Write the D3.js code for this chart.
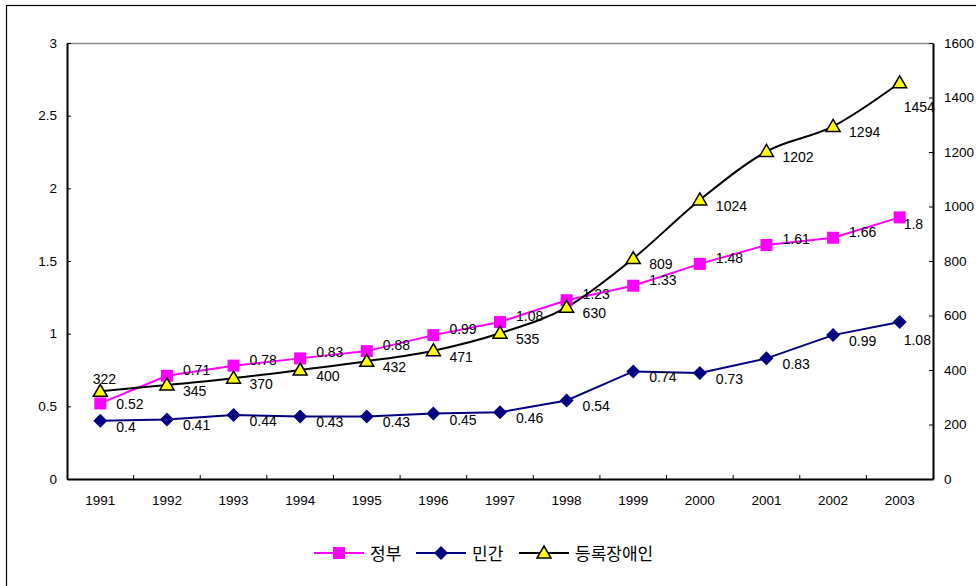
<!DOCTYPE html>
<html>
<head>
<meta charset="utf-8">
<script src="https://cdn.jsdelivr.net/npm/d3@7"></script>
<style>
  body { margin: 0; background: #fff; }
  svg { display: block; font-family: "Liberation Sans", Arial, sans-serif; }
</style>
</head>
<body>
<div id="chart"></div>
<script>
// data
const years = ['1991','1992','1993','1994','1995','1996','1997','1998','1999','2000','2001','2002','2003'];
const govValues = [0.52, 0.71, 0.78, 0.83, 0.88, 0.99, 1.08, 1.23, 1.33, 1.48, 1.61, 1.66, 1.8];
const privValues = [0.4, 0.41, 0.44, 0.43, 0.43, 0.45, 0.46, 0.54, 0.74, 0.73, 0.83, 0.99, 1.08];
const registeredValues = [322, 345, 370, 400, 432, 471, 535, 630, 809, 1024, 1202, 1294, 1454];
const leftTicks = [0, 0.5, 1, 1.5, 2, 2.5, 3];
const rightTicks = [0, 200, 400, 600, 800, 1000, 1200, 1400, 1600];
const seriesNames = ['정부', '민간', '등록장애인'];

const width = 976, height = 586;
const plot = { left: 67, right: 933, top: 43, bottom: 479 };

const svg = d3.select('#chart').append('svg')
  .attr('width', width)
  .attr('height', height);

// outer chart frame
svg.append('rect')
  .attr('x', 6.5).attr('y', 5.5)
  .attr('width', width).attr('height', height)
  .attr('fill', 'none').attr('stroke', '#000').attr('stroke-width', 1.2);

const x = d3.scaleBand().domain(years).range([plot.left, plot.right]);
const yLeft = d3.scaleLinear().domain([0, 3]).range([plot.bottom, plot.top]);
const yRight = d3.scaleLinear().domain([0, 1600]).range([plot.bottom, plot.top]);
const cx = d => x(d) + x.bandwidth() / 2;

// top border of plot area
svg.append('line')
  .attr('x1', plot.left).attr('x2', plot.right)
  .attr('y1', plot.top + 0.5).attr('y2', plot.top + 0.5)
  .attr('stroke', '#888').attr('stroke-width', 1.5);

// left axis
const leftAxis = svg.append('g')
  .attr('transform', `translate(${plot.left},0)`)
  .call(d3.axisLeft(yLeft).tickValues(leftTicks).tickSizeInner(-4).tickSizeOuter(0).tickPadding(10).tickFormat(d => d));

// right axis
const rightAxis = svg.append('g')
  .attr('transform', `translate(${plot.right},0)`)
  .call(d3.axisRight(yRight).tickValues(rightTicks).tickSizeInner(-4).tickSizeOuter(0).tickPadding(11).tickFormat(d => d));

// bottom axis, ticks between categories
const bottomAxis = svg.append('g')
  .attr('transform', `translate(0,${plot.bottom})`)
  .call(d3.axisBottom(x).tickSize(0).tickPadding(16));

bottomAxis.selectAll('.tickmark')
  .data(years.slice(1))
  .join('line')
  .attr('class', 'tickmark')
  .attr('x1', d => x(d)).attr('x2', d => x(d))
  .attr('y1', 0).attr('y2', -4)
  .attr('stroke', '#000');

[leftAxis, rightAxis, bottomAxis].forEach(a => {
  a.attr('font-size', null);
  a.select('.domain').attr('stroke', '#000').attr('stroke-width', 2);
  a.selectAll('.tick line').attr('stroke', '#000');
  a.selectAll('text').attr('font-size', '13.5px').attr('fill', '#000')
    .attr('font-family', '"Liberation Sans", Arial, sans-serif');
});

// lines
const govLine = d3.line().x((d, i) => cx(years[i])).y(d => yLeft(d));
const regLine = d3.line().x((d, i) => cx(years[i])).y(d => yRight(d)).curve(d3.curveCatmullRom.alpha(0));

svg.append('path').datum(govValues)
  .attr('d', govLine).attr('fill', 'none').attr('stroke', '#ff00ff').attr('stroke-width', 2);
svg.append('path').datum(privValues)
  .attr('d', govLine).attr('fill', 'none').attr('stroke', '#000080').attr('stroke-width', 2);
svg.append('path').datum(registeredValues)
  .attr('d', regLine).attr('fill', 'none').attr('stroke', '#000').attr('stroke-width', 2);

// markers
const squarePath = 'M-6,-6H6V6H-6Z';
const diamondPath = 'M0,-7L7,0L0,7L-7,0Z';
const trianglePath = 'M0,-7L7,5L-7,5Z';

svg.append('g').selectAll('path')
  .data(govValues).join('path')
  .attr('d', squarePath)
  .attr('transform', (d, i) => `translate(${cx(years[i])},${yLeft(d)})`)
  .attr('fill', '#ff00ff');

svg.append('g').selectAll('path')
  .data(privValues).join('path')
  .attr('d', diamondPath)
  .attr('transform', (d, i) => `translate(${cx(years[i])},${yLeft(d)})`)
  .attr('fill', '#000080');

svg.append('g').selectAll('path')
  .data(registeredValues).join('path')
  .attr('d', trianglePath)
  .attr('transform', (d, i) => `translate(${cx(years[i])},${yRight(d)})`)
  .attr('fill', '#ffff00').attr('stroke', '#000').attr('stroke-width', 1.5);

// data labels
const last = years.length - 1;
function addLabels(values, yScale, dyFn, dxFn, anchorFn) {
  svg.append('g').selectAll('text')
    .data(values).join('text')
    .attr('x', (d, i) => cx(years[i]) + dxFn(i))
    .attr('y', (d, i) => yScale(d) + dyFn(i))
    .attr('dy', '0.35em')
    .attr('text-anchor', (d, i) => anchorFn(i))
    .attr('font-size', '14px')
    .attr('fill', '#000')
    .text(d => d);
}

addLabels(govValues, yLeft,
  i => i === 0 ? 1 : (i === last ? 7 : -6),
  i => i === last ? 4 : 16, i => 'start');
addLabels(privValues, yLeft,
  i => i === last ? 18 : 6,
  i => i === last ? 4 : 16, i => 'start');
addLabels(registeredValues, yRight,
  i => i === 0 ? -12 : (i === last ? 24 : 6),
  i => i === 0 ? 4 : (i === last ? 4 : 16),
  i => i === 0 ? 'middle' : 'start');

// legend
const legendColors = ['#ff00ff', '#000080', '#000'];
const legendMarkers = [squarePath, diamondPath, trianglePath];
const legendX = [314, 416, 519];
const legendY = 553;
const legend = svg.append('g');
seriesNames.forEach((name, i) => {
  const g = legend.append('g').attr('transform', `translate(${legendX[i]},${legendY})`);
  g.append('line').attr('x1', 0).attr('x2', 50).attr('y1', 0).attr('y2', 0)
    .attr('stroke', legendColors[i]).attr('stroke-width', 2);
  const m = g.append('path').attr('d', legendMarkers[i]).attr('transform', 'translate(25,0)');
  if (i === 2) m.attr('fill', '#ffff00').attr('stroke', '#000').attr('stroke-width', 1.5);
  else m.attr('fill', legendColors[i]);
  g.append('text').attr('x', 56).attr('y', 1).attr('dy', '0.35em')
    .attr('font-family', '"Noto Sans CJK KR", sans-serif')
    .attr('font-size', '17px').attr('fill', '#000')
    .text(name);
});
</script>
</body>
</html>
